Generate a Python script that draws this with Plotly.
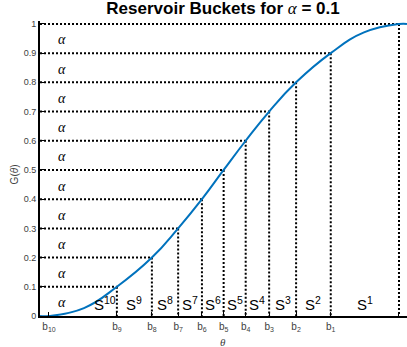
import plotly.graph_objects as go

# Bucket boundaries b_10 ... b_0 on the θ axis and the CDF level G(b_k) at each
b_theta = [0.0, 0.194, 0.294, 0.369, 0.437, 0.499, 0.562, 0.629, 0.706, 0.805, 1.0]
levels = [0.0, 0.1, 0.2, 0.3, 0.4, 0.5, 0.6, 0.7, 0.8, 0.9, 1.0]
b_labels = ["b<sub>10</sub>", "b<sub>9</sub>", "b<sub>8</sub>", "b<sub>7</sub>",
            "b<sub>6</sub>", "b<sub>5</sub>", "b<sub>4</sub>", "b<sub>3</sub>",
            "b<sub>2</sub>", "b<sub>1</sub>", "b<sub>0</sub> = λ"]
s_labels = ["S<sup>10</sup>", "S<sup>9</sup>", "S<sup>8</sup>", "S<sup>7</sup>",
            "S<sup>6</sup>", "S<sup>5</sup>", "S<sup>4</sup>", "S<sup>3</sup>",
            "S<sup>2</sup>", "S<sup>1</sup>"]
y_ticks = [0.0, 0.1, 0.2, 0.3, 0.4, 0.5, 0.6, 0.7, 0.8, 0.9, 1.0]
alpha = 0.1

# extra samples of the CDF between boundaries
extra_theta = [0.1, 0.9]
extra_g = [0.027, 0.971]

X_LO, X_HI = -0.0257, 1.0229
W, H = 407, 347
M = dict(l=40, r=0, t=21, b=31)

SANS = "Liberation Sans, Arial, Helvetica, sans-serif"
SERIF = "Liberation Serif, DejaVu Serif, serif"
GRAY = "#404040"

pts = sorted(zip(b_theta + extra_theta, levels + extra_g))
cx = [X_LO] + [p[0] for p in pts] + [X_HI]
cy = [0.0] + [p[1] for p in pts] + [1.0]

# dotted guides: horizontal from the G axis to b_k, vertical from the curve to the θ axis
hx, hy, vx, vy = [], [], [], []
for t, g in zip(b_theta[1:], levels[1:]):
    hx += [X_LO, t, None]
    hy += [g, g, None]
    vx += [t, t, None]
    vy += [g, 0.0, None]

fig = go.Figure()
dot = dict(color="black", width=2, dash="2px,2px")
fig.add_trace(go.Scatter(x=hx, y=hy, mode="lines", line=dot, hoverinfo="skip"))
fig.add_trace(go.Scatter(x=vx, y=vy, mode="lines", line=dot, hoverinfo="skip"))
fig.add_trace(go.Scatter(x=cx, y=cy, mode="lines",
                         line=dict(color="#0072BD", width=2, shape="spline", smoothing=1.3)))

# α labels inside each horizontal band
for g in levels[1:]:
    fig.add_annotation(x=0.037, y=g - alpha / 2 - 0.005, text="<i>α</i>", showarrow=False,
                       font=dict(family=SERIF, size=14, color="black"),
                       xanchor="center", yanchor="middle")

# S^k labels between consecutive boundaries (S^10 sits off the curve)
s_x = [0.16] + [(b_theta[i] + b_theta[i + 1]) / 2 for i in range(1, 10)]
for x, s in zip(s_x, s_labels):
    fig.add_annotation(x=x, y=0.0, text=s, showarrow=False,
                       font=dict(family=SANS, size=15, color="black"),
                       xanchor="center", yanchor="bottom", yshift=1)

plot_w = W - M["l"] - M["r"]
plot_h = H - M["t"] - M["b"]
fig.add_annotation(xref="paper", yref="paper", x=(14 - M["l"]) / plot_w, y=0.5 - 0.02,
                   text="G(<i>θ</i>)", textangle=-90, showarrow=False,
                   xanchor="center", yanchor="middle",
                   font=dict(family=SANS, size=10, color=GRAY))
fig.add_annotation(xref="paper", yref="paper", x=(223 - M["l"]) / plot_w,
                   y=(H - M["b"] - 342) / plot_h, text="<i>θ</i>", showarrow=False,
                   xanchor="center", yanchor="middle",
                   font=dict(family=SERIF, size=11, color=GRAY))

fig.update_layout(
    width=W, height=H, margin=M,
    paper_bgcolor="white", plot_bgcolor="white",
    showlegend=False,
    title=dict(text="<b>Reservoir Buckets for </b><span style=\"font-family:Liberation Serif\"><i>α</i></span><b> = 0.1</b>",
               x=(223) / W, xanchor="center", y=1 - 2 / H, yanchor="top",
               font=dict(family=SANS, size=17, color="black")),
)
fig.update_xaxes(range=[X_LO, X_HI], tickvals=b_theta, ticktext=b_labels,
                 ticks="inside", ticklen=4, tickwidth=1, tickcolor="black",
                 showline=True, linecolor="black", linewidth=2,
                 showgrid=False, zeroline=False, automargin=False,
                 tickfont=dict(family=SANS, size=10, color=GRAY))
fig.update_yaxes(range=[0, 1.01], tickvals=y_ticks,
                 ticktext=[f"{v:g}" for v in y_ticks],
                 ticks="inside", ticklen=4, tickwidth=1, tickcolor="black",
                 showline=True, linecolor="black", linewidth=2,
                 showgrid=False, zeroline=False, automargin=False,
                 tickfont=dict(family=SANS, size=9, color=GRAY))

fig.write_html("out.html")
